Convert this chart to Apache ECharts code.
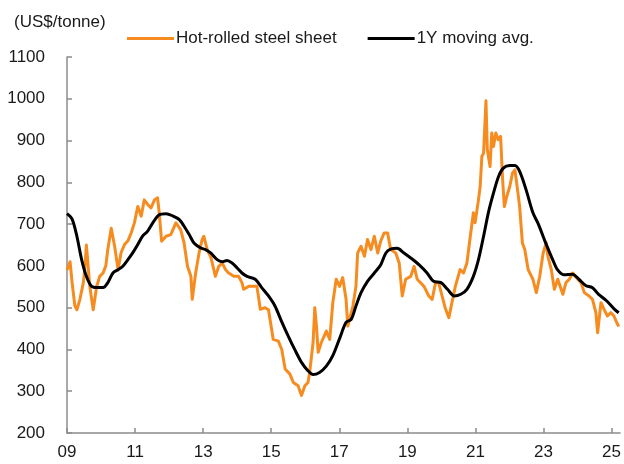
<!DOCTYPE html>
<html>
<head>
<meta charset="utf-8">
<script src="https://cdn.jsdelivr.net/npm/echarts@6/dist/echarts.min.js"></script>
<style>
  html, body { margin: 0; padding: 0; background: #fff; }
  #chart { width: 624px; height: 464px; }
</style>
</head>
<body>
<div id="chart"></div>
<script>
// hot-rolled steel sheet price, decimal years
var steelDates = [
  2009.00, 2009.09, 2009.15, 2009.23, 2009.29, 2009.38, 2009.48, 2009.52, 2009.57, 2009.61,
  2009.67, 2009.77, 2009.87, 2009.96, 2010.06, 2010.14, 2010.20, 2010.30, 2010.40, 2010.50,
  2010.59, 2010.69, 2010.79, 2010.89, 2010.98, 2011.08, 2011.18, 2011.27, 2011.37, 2011.47,
  2011.57, 2011.66, 2011.71, 2011.78, 2011.91, 2012.05, 2012.20, 2012.34, 2012.44, 2012.54,
  2012.64, 2012.68, 2012.78, 2012.88, 2012.97, 2013.02, 2013.12, 2013.23, 2013.36, 2013.46,
  2013.56, 2013.66, 2013.75, 2013.90, 2014.04, 2014.14, 2014.19, 2014.34, 2014.58, 2014.68,
  2014.82, 2014.92, 2015.06, 2015.21, 2015.31, 2015.41, 2015.55, 2015.65, 2015.79, 2015.89,
  2015.99, 2016.08, 2016.13, 2016.23, 2016.28, 2016.33, 2016.38, 2016.47, 2016.62, 2016.72,
  2016.81, 2016.91, 2017.01, 2017.10, 2017.20, 2017.25, 2017.30, 2017.40, 2017.49, 2017.54,
  2017.64, 2017.74, 2017.83, 2017.93, 2018.03, 2018.13, 2018.22, 2018.32, 2018.42, 2018.51,
  2018.66, 2018.76, 2018.85, 2018.95, 2019.10, 2019.20, 2019.29, 2019.49, 2019.63, 2019.73,
  2019.83, 2019.92, 2020.02, 2020.11, 2020.22, 2020.31, 2020.41, 2020.55, 2020.65, 2020.75,
  2020.85, 2020.94, 2020.99, 2021.09, 2021.14, 2021.19, 2021.24, 2021.31, 2021.35, 2021.43,
  2021.48, 2021.53, 2021.60, 2021.67, 2021.74, 2021.80, 2021.85, 2021.92, 2022.01, 2022.09,
  2022.16, 2022.21, 2022.30, 2022.38, 2022.45, 2022.55, 2022.69, 2022.79, 2022.89, 2022.99,
  2023.08, 2023.13, 2023.23, 2023.32, 2023.42, 2023.57, 2023.66, 2023.76, 2023.86, 2024.01,
  2024.10, 2024.20, 2024.34, 2024.44, 2024.54, 2024.59, 2024.69, 2024.78, 2024.88, 2024.98,
  2025.07, 2025.15, 2025.21
];
var steelValues = [
  590, 610, 560, 505, 495, 520, 560, 590, 650, 610,
  551, 495, 550, 575, 583, 600, 640, 690, 647, 591,
  632, 651, 660, 680, 703, 742, 719, 758, 747, 739,
  758, 763, 727, 659, 671, 675, 703, 687, 655, 599,
  575, 520, 583, 631, 663, 671, 639, 620, 575, 599,
  607, 591, 583, 575, 575, 560, 544, 551, 551, 496,
  500, 495, 424, 420, 400, 353, 341, 321, 313, 290,
  313, 321, 345, 416, 500, 456, 393, 416, 444, 424,
  512, 568, 551, 572, 520, 456, 472, 504, 551, 631,
  647, 623, 663, 639, 671, 631, 660, 679, 679, 639,
  631, 607, 528, 568, 575, 599, 568, 551, 528, 520,
  560, 560, 528, 500, 476, 512, 551, 591, 583, 607,
  671, 727, 703, 758, 790, 862, 870, 995, 878, 838,
  918, 886, 918, 902, 910, 806, 742, 766, 790, 822,
  830, 800, 742, 655, 639, 591, 568, 536, 575, 631,
  655, 623, 591, 544, 568, 532, 560, 568, 583, 568,
  560, 536, 528, 520, 488, 440, 512, 496, 480, 488,
  480, 465, 455
];

// 1Y moving average
var avgDates = [
  2009.00, 2009.15, 2009.29, 2009.43, 2009.57, 2009.72, 2009.87, 2010.06, 2010.20, 2010.35,
  2010.50, 2010.64, 2010.79, 2010.93, 2011.08, 2011.22, 2011.37, 2011.52, 2011.70, 2011.91,
  2012.10, 2012.30, 2012.44, 2012.59, 2012.73, 2012.93, 2013.07, 2013.22, 2013.41, 2013.56,
  2013.70, 2013.85, 2014.00, 2014.14, 2014.29, 2014.53, 2014.72, 2014.92, 2015.11, 2015.30,
  2015.50, 2015.69, 2015.89, 2016.08, 2016.23, 2016.42, 2016.62, 2016.81, 2017.00, 2017.20,
  2017.35, 2017.49, 2017.64, 2017.83, 2018.03, 2018.22, 2018.37, 2018.51, 2018.70, 2018.90,
  2019.10, 2019.34, 2019.58, 2019.77, 2019.99, 2020.18, 2020.38, 2020.57, 2020.75, 2020.94,
  2021.09, 2021.24, 2021.38, 2021.53, 2021.68, 2021.82, 2022.01, 2022.16, 2022.30, 2022.49,
  2022.69, 2022.85, 2023.04, 2023.27, 2023.41, 2023.60, 2023.85, 2024.04, 2024.24, 2024.43,
  2024.62, 2024.86, 2025.09, 2025.21
];
var avgValues = [
  725, 712, 671, 615, 575, 551, 548, 548, 560, 583,
  591, 599, 615, 631, 651, 671, 683, 703, 722, 725,
  720, 711, 695, 675, 655, 643, 639, 631, 615, 610,
  613, 607, 595, 583, 575, 568, 548, 528, 504, 468,
  432, 400, 369, 349, 340, 345, 360, 385, 424, 465,
  472, 504, 536, 563, 583, 603, 631, 640, 642, 631,
  619, 603, 583, 563, 560, 544, 528, 532, 544, 575,
  615, 671, 727, 774, 814, 834, 840, 840, 826, 782,
  727, 700, 660, 615, 591, 579, 580, 568, 553, 548,
  532, 516, 496, 488
];

var baseYear = 2009;
var yTicks = [200, 1100, 100];

function pairs(dates, vals) {
  var out = [];
  for (var i = 0; i < dates.length; i++) {
    out.push([dates[i] - baseYear, vals[i]]);
  }
  return out;
}

var font = '"Liberation Sans Narrow", "Arial Narrow", "Liberation Sans", Arial, sans-serif';
var fs = 17;
var myChart = echarts.init(document.getElementById('chart'));

var option = {
  animation: false,
  backgroundColor: '#fff',
  title: {
    text: '(US$/tonne)',
    left: 9,
    top: 9,
    textStyle: { fontFamily: font, fontSize: fs, fontWeight: 'normal', color: '#1a1a1a' }
  },
  legend: {
    left: 122,
    top: 25,
    icon: 'rect',
    itemWidth: 47,
    itemHeight: 3,
    itemGap: 31,
    textStyle: { fontFamily: font, fontSize: fs, color: '#1a1a1a', padding: [0, 0, 0, -3] },
    data: ['Hot-rolled steel sheet', '1Y moving avg.']
  },
  grid: {
    left: 67,
    right: 1,
    top: 57,
    bottom: 31
  },
  xAxis: {
    type: 'value',
    min: 0,
    max: 16.25,
    interval: 2,
    splitLine: { show: false },
    axisLine: { lineStyle: { color: '#8c8c8c', width: 1.5 } },
    axisTick: { inside: true, length: 5, lineStyle: { color: '#8c8c8c', width: 1.5 } },
    axisLabel: {
      margin: 11,
      fontFamily: font,
      fontSize: fs,
      color: '#1a1a1a',
      showMaxLabel: false,
      formatter: function (v) {
        if (Math.abs(v - Math.round(v)) > 0.001) return '';
        var y = (baseYear + v) % 100;
        return (y < 10 ? '0' : '') + y;
      }
    }
  },
  yAxis: {
    type: 'value',
    min: yTicks[0],
    max: yTicks[1],
    interval: yTicks[2],
    splitLine: { show: false },
    axisLine: { show: true, lineStyle: { color: '#8c8c8c', width: 1.5 } },
    axisTick: { show: true, inside: true, length: 5, lineStyle: { color: '#8c8c8c', width: 1.5 } },
    axisLabel: {
      margin: 22,
      fontFamily: font,
      fontSize: fs,
      color: '#1a1a1a',
      formatter: function (v) { return String(v); }
    }
  },
  series: [
    {
      name: 'Hot-rolled steel sheet',
      type: 'line',
      data: pairs(steelDates, steelValues),
      symbol: 'none',
      lineStyle: { color: '#f68b1f', width: 3, join: 'round' },
      itemStyle: { color: '#f68b1f' },
      z: 2
    },
    {
      name: '1Y moving avg.',
      type: 'line',
      data: pairs(avgDates, avgValues),
      symbol: 'none',
      smooth: 0.3,
      lineStyle: { color: '#000', width: 3 },
      itemStyle: { color: '#000' },
      z: 3
    }
  ]
};

myChart.setOption(option);
</script>
</body>
</html>
